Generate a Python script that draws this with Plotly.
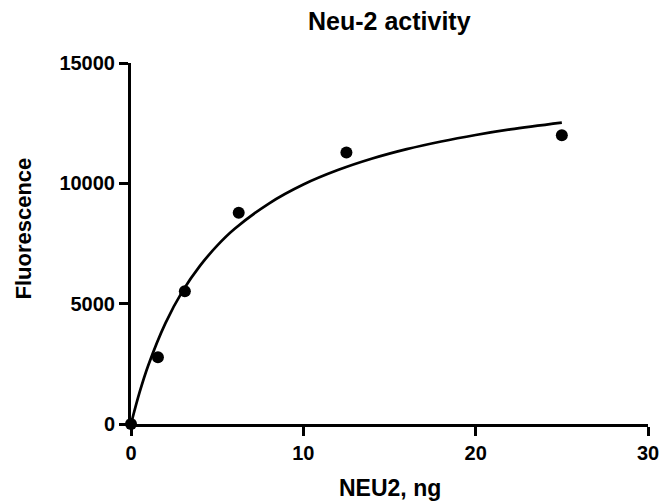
import plotly.graph_objects as go

# Measured data points
neu2_ng = [0, 1.5625, 3.125, 6.25, 12.5, 25]
fluorescence = [0, 2770, 5520, 8780, 11280, 12000]

# Fitted curve
curve_x = [0, 0.5, 1, 2, 3, 4, 5, 6, 8, 10, 12, 14, 16, 18, 20, 22, 25]
curve_y = [0, 1320, 2430, 4190, 5530, 6570, 7410, 8100, 9160, 9950, 10550, 11030, 11420, 11740, 12010, 12240, 12525]

x_ticks = [0, 10, 20, 30]
y_ticks = [0, 5000, 10000, 15000]
y_tick_text = ["0", "5000", "10000", "15000"]

FONT = "Liberation Sans"

fig = go.Figure()
fig.add_trace(go.Scatter(x=curve_x, y=curve_y, mode="lines",
                         line=dict(color="black", width=2.7, shape="spline"),
                         hoverinfo="skip", showlegend=False))
fig.add_trace(go.Scatter(x=neu2_ng, y=fluorescence, mode="markers",
                         marker=dict(color="black", size=12),
                         cliponaxis=False, showlegend=False))

axis_common = dict(showline=True, linecolor="black", linewidth=3,
                   ticks="outside", ticklen=9, tickwidth=3, tickcolor="black",
                   showgrid=False, zeroline=False, mirror=False, automargin=False,
                   tickfont=dict(family=FONT, size=20, color="black", weight="bold"))

fig.update_layout(
    width=660, height=504,
    paper_bgcolor="white", plot_bgcolor="white",
    margin=dict(l=131, r=12, t=63, b=80),
    xaxis=dict(range=[0, 30], tickvals=x_ticks, **axis_common),
    yaxis=dict(range=[0, 15000], tickvals=y_ticks, ticktext=y_tick_text, **axis_common),
    annotations=[
        dict(text="<b>Neu-2 activity</b>", xref="paper", yref="paper", x=0.5, y=1,
             yshift=42, xanchor="center", yanchor="middle", showarrow=False,
             font=dict(family=FONT, size=25, color="black")),
        dict(text="<b>NEU2, ng</b>", xref="paper", yref="paper", x=0.5, y=0,
             yshift=-64, xanchor="center", yanchor="middle", showarrow=False,
             font=dict(family=FONT, size=23, color="black")),
        dict(text="<b>Fluorescence</b>", xref="paper", yref="paper", x=0, y=0.5,
             xshift=-108, yshift=15, xanchor="center", yanchor="middle", textangle=-90,
             showarrow=False, font=dict(family=FONT, size=22, color="black")),
    ],
)

# Remove the default page margin so the 660x504 figure fills the window exactly.
fig.write_html("out.html",
               config={"displayModeBar": False},
               post_script="document.body.style.margin='0';document.body.style.overflow='hidden';")
